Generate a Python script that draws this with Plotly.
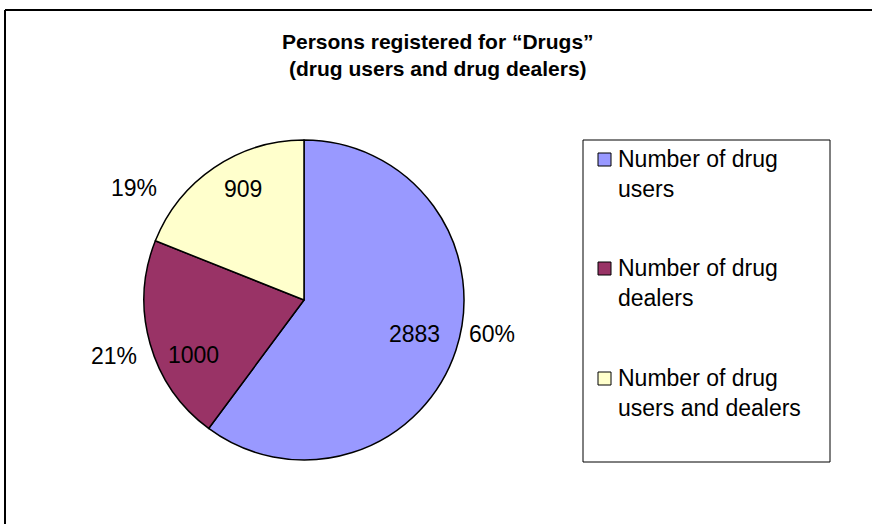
import plotly.graph_objects as go

# Persons registered for "Drugs"
categories = ["Number of drug users", "Number of drug dealers", "Number of drug users and dealers"]
legend_labels = ["Number of drug<br>users", "Number of drug<br>dealers", "Number of drug<br>users and dealers"]
counts = [2883, 1000, 909]
colors = ["#9999FF", "#993366", "#FFFFCC"]

W, H = 872, 524
FONT = "Liberation Sans, Arial, sans-serif"


def px(x):
    return x / W


def py(y):
    return 1 - y / H


total = sum(counts)
percents = [round(100 * c / total) for c in counts]

# pie geometry (pixels): centre and radius
cx, cy, r = 304, 300, 160

fig = go.Figure(
    go.Pie(
        labels=categories,
        values=counts,
        marker=dict(colors=colors, line=dict(color="black", width=1.5)),
        sort=False,
        direction="clockwise",
        rotation=0,
        textinfo="none",
        hoverinfo="label+value+percent",
        showlegend=False,
        domain=dict(x=[px(cx - r), px(cx + r)], y=[py(cy + r), py(cy - r)]),
    )
)

# label anchor points (pixels) for value and percentage texts
value_pos = [(414, 334), (193, 355), (243, 189)]
pct_pos = [(492, 334), (114, 356), (134, 188)]


def label(text, x, y, size=23, bold=False):
    return dict(x=px(x), y=py(y), xref="paper", yref="paper",
                xanchor="center", yanchor="middle",
                text=f"<b>{text}</b>" if bold else text, showarrow=False,
                font=dict(family=FONT, size=size, color="black"))


annotations = []
for v, (x, y) in zip(counts, value_pos):
    annotations.append(label(str(v), x, y))
for p, (x, y) in zip(percents, pct_pos):
    annotations.append(label(f"{p}%", x, y))

# title
annotations.append(label("Persons registered for “Drugs”<br>(drug users and drug dealers)",
                         438, 55, size=21, bold=True))

shapes = [
    # chart frame: top and left edges (the rest runs off the page)
    dict(type="line", xref="paper", yref="paper", x0=px(5), x1=px(W + 10), y0=py(10), y1=py(10),
         line=dict(color="black", width=2)),
    dict(type="line", xref="paper", yref="paper", x0=px(5), x1=px(5), y0=py(10), y1=py(H + 10),
         line=dict(color="black", width=2)),
    # legend box
    dict(type="rect", xref="paper", yref="paper", x0=px(583), x1=px(830), y0=py(140), y1=py(462),
         line=dict(color="black", width=1), fillcolor="white"),
]

# legend entries
item_tops = [153, 262, 372]
for lab, col, top in zip(legend_labels, colors, item_tops):
    shapes.append(dict(type="rect", xref="paper", yref="paper", x0=px(598), x1=px(611),
                       y0=py(top), y1=py(top + 13), fillcolor=col, line=dict(color="black", width=1)))
    annotations.append(dict(x=px(616), y=py(top - 9), xref="paper", yref="paper", text=lab,
                            xanchor="left", yanchor="top", align="left", showarrow=False,
                            font=dict(family=FONT, size=23, color="black")))

fig.update_layout(
    width=W, height=H,
    margin=dict(l=0, r=0, t=0, b=0),
    paper_bgcolor="white",
    plot_bgcolor="white",
    shapes=shapes,
    annotations=annotations,
)

fig.write_html("out.html")
